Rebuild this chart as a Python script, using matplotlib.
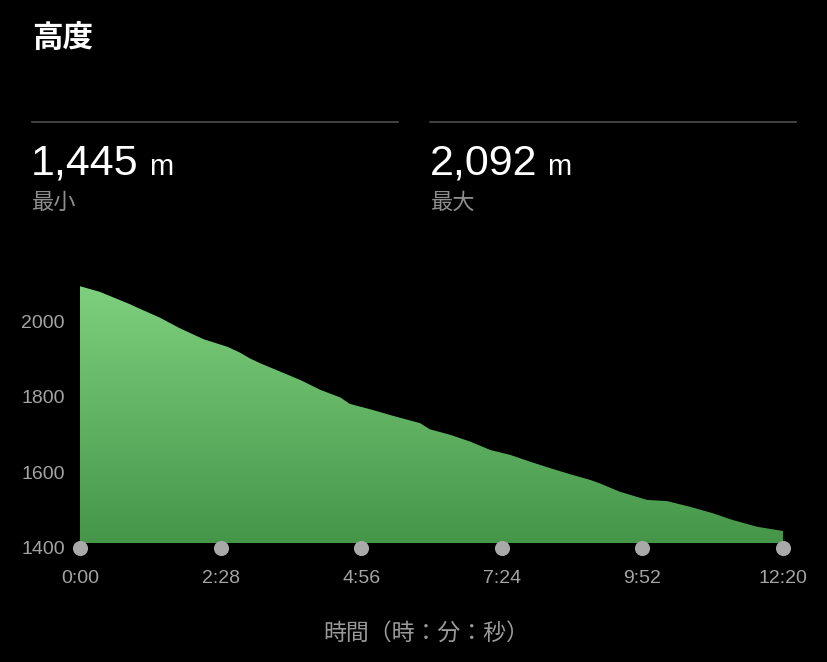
import numpy as np
import matplotlib.pyplot as plt
from matplotlib.lines import Line2D

plt.rcParams['font.family'] = ['Liberation Sans', 'Noto Sans CJK JP', 'DejaVu Sans']

# elevation profile: seconds since start vs. metres
t = [0, 21, 53, 58, 84, 105, 130, 155, 168, 179, 190, 211, 232, 253, 274, 284,
     308, 330, 358, 368, 390, 411, 432, 453, 474, 495, 516, 537, 547, 568, 597,
     618, 642, 666, 687, 713, 740]
elev = [2092, 2077, 2044, 2038, 2009, 1981, 1952, 1932, 1917, 1901, 1888, 1866,
        1844, 1818, 1798, 1781, 1765, 1749, 1730, 1714, 1699, 1681, 1659, 1646,
        1628, 1611, 1595, 1580, 1571, 1549, 1527, 1524, 1509, 1492, 1474, 1456,
        1445]

xticks = [0, 148, 296, 444, 592, 740]
xlabels = ['0:00', '2:28', '4:56', '7:24', '9:52', '12:20']
yticks = [1400, 1600, 1800, 2000]

min_label = '1,445'
max_label = '2,092'

W, H = 828, 662
fig = plt.figure(figsize=(W / 100, H / 100), dpi=100, facecolor='black')


def fx(px):
    return px / W


def fy(py):
    return 1 - py / H


# plot area: 1400 m sits at y=548 px, 200 m per 75.7 px
px_per_m = 0.3783
ymin, ymax = 1400, 2100
top_px = 548 - (ymax - ymin) * px_per_m
ax = fig.add_axes([fx(80), fy(548), fx(783) - fx(80), (548 - top_px) / H])
ax.set_facecolor('black')
ax.set_xlim(0, 740)
ax.set_ylim(ymin, ymax)
for s in ax.spines.values():
    s.set_visible(False)

base = 1413
poly = ax.fill_between(t, elev, base, color='none', lw=0)
grad = np.linspace(0, 1, 256).reshape(-1, 1)
top_c = np.array([0x7e, 0xd0, 0x7e]) / 255
bot_c = np.array([0x45, 0x96, 0x49]) / 255
img = bot_c + grad * (top_c - bot_c)
im = ax.imshow(img.reshape(256, 1, 3), extent=[0, 740, base, max(elev)],
               origin='lower', aspect='auto', interpolation='bilinear', zorder=1)
path = poly.get_paths()[0]
im.set_clip_path(path, transform=ax.transData)

ax.scatter(xticks, [ymin] * len(xticks), s=118, color='#a9a9a9', zorder=3,
           clip_on=False, lw=0)

ax.set_xticks(xticks)
ax.set_xticklabels(xlabels)
ax.set_yticks(yticks)
ax.set_yticklabels([str(v) for v in yticks])
ax.tick_params(axis='both', length=0, labelsize=14, colors='#a4a4a4')
ax.tick_params(axis='x', pad=15.5)
ax.tick_params(axis='y', pad=11)

fig.text(fx(426), fy(633), '時間（時：分：秒）', color='#9a9a9a', fontsize=16.5,
         ha='center', va='center')

# header
fig.text(fx(32), fy(40), '高度', color='white', fontsize=22, fontweight='bold',
         ha='left', va='center')

for x0, x1 in [(32, 398), (430, 796)]:
    fig.add_artist(Line2D([fx(x0), fx(x1)], [fy(122), fy(122)], color='#4f4f4f',
                          lw=1.2, transform=fig.transFigure))

for x0, val, lab in [(31, min_label, '最小'), (430, max_label, '最大')]:
    t1 = fig.text(fx(x0), fy(175), val, color='white', fontsize=31,
                  ha='left', va='baseline')
    fig.canvas.draw()
    bb = t1.get_window_extent()
    fig.text(bb.x1 / W + fx(10), fy(175), 'm', color='white', fontsize=21,
             ha='left', va='baseline')
    fig.text(fx(x0 + 1), fy(203), lab, color='#8e8e8e', fontsize=16,
             ha='left', va='center')

fig.savefig('out.png', dpi=100, facecolor='black')
